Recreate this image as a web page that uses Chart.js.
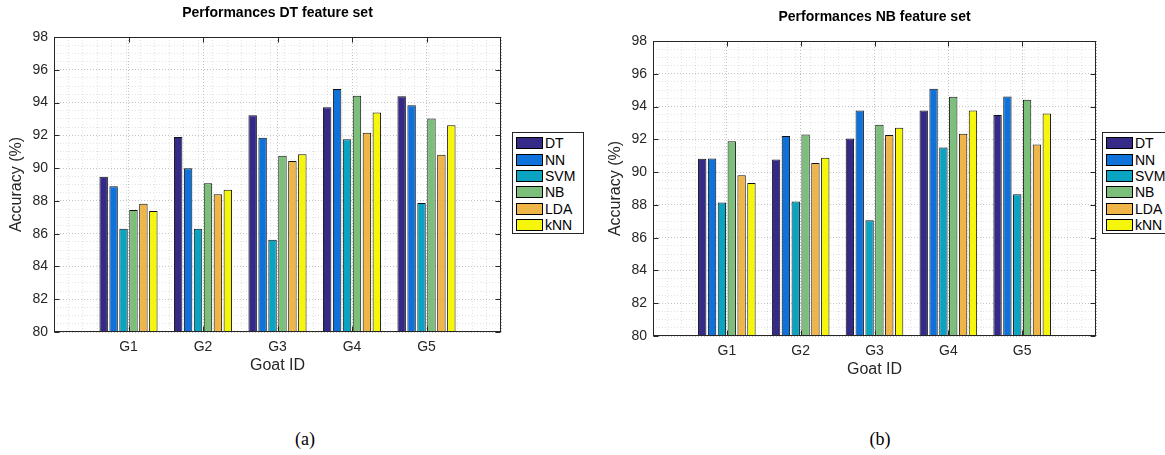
<!DOCTYPE html>
<html><head><meta charset="utf-8">
<script src="https://cdn.jsdelivr.net/npm/chart.js@4.4.1/dist/chart.umd.min.js"></script>
<style>
html,body{margin:0;padding:0;background:#fff;width:1165px;height:455px;overflow:hidden;position:relative;font-family:"Liberation Sans",Arial,sans-serif;}
canvas{position:absolute;}
.legend{position:absolute;border:1px solid #262626;background:#fff;box-sizing:border-box;}
.legend .row{position:absolute;left:3px;height:12px;display:flex;align-items:center;white-space:nowrap;}
.sw{width:27px;height:12px;box-sizing:border-box;border:1px solid #000;flex:none;}
.lt{margin-left:2px;font-size:14px;color:#000;line-height:14px;}
.cap{position:absolute;font-family:"Liberation Serif","Times New Roman",serif;font-size:18px;width:200px;text-align:center;line-height:22px;color:#000;}
</style></head><body>
<canvas id="c1" width="590" height="380" style="left:0;top:0"></canvas>
<canvas id="c2" width="566" height="380" style="left:599px;top:4px"></canvas>
<div id="lg1" class="legend" style="left:512px;top:132px;width:72px;height:102px"></div>
<div id="lg2" class="legend" style="left:1102px;top:132px;width:72px;height:102px"></div>
<div class="cap" style="left:205px;top:428px">(a)</div>
<div class="cap" style="left:780px;top:428px">(b)</div>
<script>
const goats = ['G1', 'G2', 'G3', 'G4', 'G5'];
const methods = ['DT', 'NN', 'SVM', 'NB', 'LDA', 'kNN'];
const yTickLabels = [80, 82, 84, 86, 88, 90, 92, 94, 96, 98];

// Performances DT feature set (accuracy %, per goat)
const dtSetDT  = [89.48, 91.90, 93.22, 93.71, 94.38];
const dtSetNN  = [88.89, 89.99, 91.86, 94.83, 93.83];
const dtSetSVM = [86.30, 86.30, 85.63, 91.76, 87.87];
const dtSetNB  = [87.44, 89.07, 90.76, 94.42, 93.02];
const dtSetLDA = [87.83, 88.40, 90.43, 92.16, 90.82];
const dtSetKNN = [87.38, 88.68, 90.84, 93.40, 92.61];

// Performances NB feature set (accuracy %, per goat)
const nbSetDT  = [90.81, 90.77, 92.05, 93.76, 93.48];
const nbSetNN  = [90.83, 92.20, 93.76, 95.09, 94.62];
const nbSetSVM = [88.15, 88.21, 87.07, 91.50, 88.65];
const nbSetNB  = [91.89, 92.30, 92.89, 94.60, 94.41];
const nbSetLDA = [89.81, 90.55, 92.26, 92.34, 91.69];
const nbSetKNN = [89.33, 90.87, 92.71, 93.76, 93.58];

const palette = ['#352a87', '#0f72da', '#0aa3c1', '#7cbf7b', '#efb548', '#f6f60c'];

Chart.defaults.font.family = '"Liberation Sans", Arial, sans-serif';

const xLabels = ['', ...goats, ''];
function pad(a) { return [null, ...a, null]; }

const frame = {
  id: 'frame',
  afterDraw(chart) {
    const {ctx, chartArea: a, scales} = chart;
    const L = Math.round(a.left) + 0.5, R = Math.round(a.right) - 0.5;
    const T = Math.round(a.top) + 0.5, B = Math.round(a.bottom) - 0.5;
    ctx.save();
    ctx.strokeStyle = '#262626';
    ctx.lineWidth = 1;
    ctx.beginPath();
    yTickLabels.forEach(v => {
      const y = Math.round(scales.y.getPixelForValue(v)) + 0.5;
      ctx.moveTo(L, y); ctx.lineTo(L + 5, y);
      ctx.moveTo(R, y); ctx.lineTo(R - 5, y);
    });
    goats.forEach((g, i) => {
      const x = Math.round(scales.x.getPixelForValue(i + 1)) + 0.5;
      ctx.moveTo(x, T); ctx.lineTo(x, T + 5);
      ctx.moveTo(x, B); ctx.lineTo(x, B - 5);
    });
    ctx.stroke();
    ctx.strokeRect(L, T, R - L, B - T);
    ctx.restore();
  }
};

function makeChart(id, title, series, padRight) {
  return new Chart(document.getElementById(id), {
    type: 'bar',
    data: {
      labels: xLabels,
      datasets: methods.map((m, i) => ({
        label: m,
        data: pad(series[i]),
        backgroundColor: palette[i],
        borderColor: '#111',
        borderWidth: 1,
        borderSkipped: 'start',
        base: 80,
        barPercentage: 0.85,
        categoryPercentage: 0.8,
        xAxisID: 'x',
        yAxisID: 'y'
      }))
    },
    options: {
      responsive: false,
      animation: false,
      devicePixelRatio: 1,
      layout: {padding: {left: 0, right: padRight, top: 0, bottom: 0}},
      plugins: {
        legend: {display: false},
        tooltip: {enabled: false},
        title: {
          display: true, text: title, fullSize: false,
          font: {size: 14, weight: 'bold'}, color: '#000',
          padding: {top: 5, bottom: 15.2}
        }
      },
      scales: {
        x: {
          type: 'category', offset: false,
          grid: {offset: false, drawTicks: false, color: 'rgba(38,38,38,0.28)'},
          border: {display: false, dash: [1, 2]},
          ticks: {font: {size: 14}, color: '#262626', padding: 7, autoSkip: false, maxRotation: 0},
          title: {display: true, text: 'Goat ID', font: {size: 16}, color: '#262626', padding: {top: 0, bottom: 4.4}},
          afterFit(s) { s.height = 48; }
        },
        xm: {
          type: 'linear', position: 'bottom', min: 0, max: 6,
          ticks: {display: false, stepSize: 0.2},
          grid: {drawTicks: false, color: 'rgba(38,38,38,0.13)'},
          border: {display: false, dash: [1, 2]},
          afterFit(s) { s.height = 0; }
        },
        y: {
          min: 80, max: 98,
          ticks: {
            stepSize: 0.5, autoSkip: false, font: {size: 14}, color: '#262626', padding: 6,
            callback: v => yTickLabels.includes(v) ? String(v) : ''
          },
          grid: {
            drawTicks: false,
            color: c => yTickLabels.includes(c.tick.value) ? 'rgba(38,38,38,0.28)' : 'rgba(38,38,38,0.13)'
          },
          border: {display: false, dash: [1, 2]},
          title: {display: true, text: 'Accuracy (%)', font: {size: 16}, color: '#262626', padding: {top: 7, bottom: 0}},
          afterFit(s) { s.width = 54; }
        }
      }
    },
    plugins: [frame]
  });
}

function buildLegend(id, chart) {
  const el = document.getElementById(id);
  chart.data.datasets.forEach((ds, i) => {
    const row = document.createElement('div');
    row.className = 'row';
    row.style.top = (4.3 + i * 16.33) + 'px';
    const sw = document.createElement('div');
    sw.className = 'sw';
    sw.style.background = ds.backgroundColor;
    const t = document.createElement('span');
    t.className = 'lt';
    t.textContent = ds.label;
    row.appendChild(sw); row.appendChild(t);
    el.appendChild(row);
  });
}

const c1 = makeChart('c1', 'Performances DT feature set',
  [dtSetDT, dtSetNN, dtSetSVM, dtSetNB, dtSetLDA, dtSetKNN], 89);
const c2 = makeChart('c2', 'Performances NB feature set',
  [nbSetDT, nbSetNN, nbSetSVM, nbSetNB, nbSetLDA, nbSetKNN], 69);
buildLegend('lg1', c1);
buildLegend('lg2', c2);
</script>
</body></html>
